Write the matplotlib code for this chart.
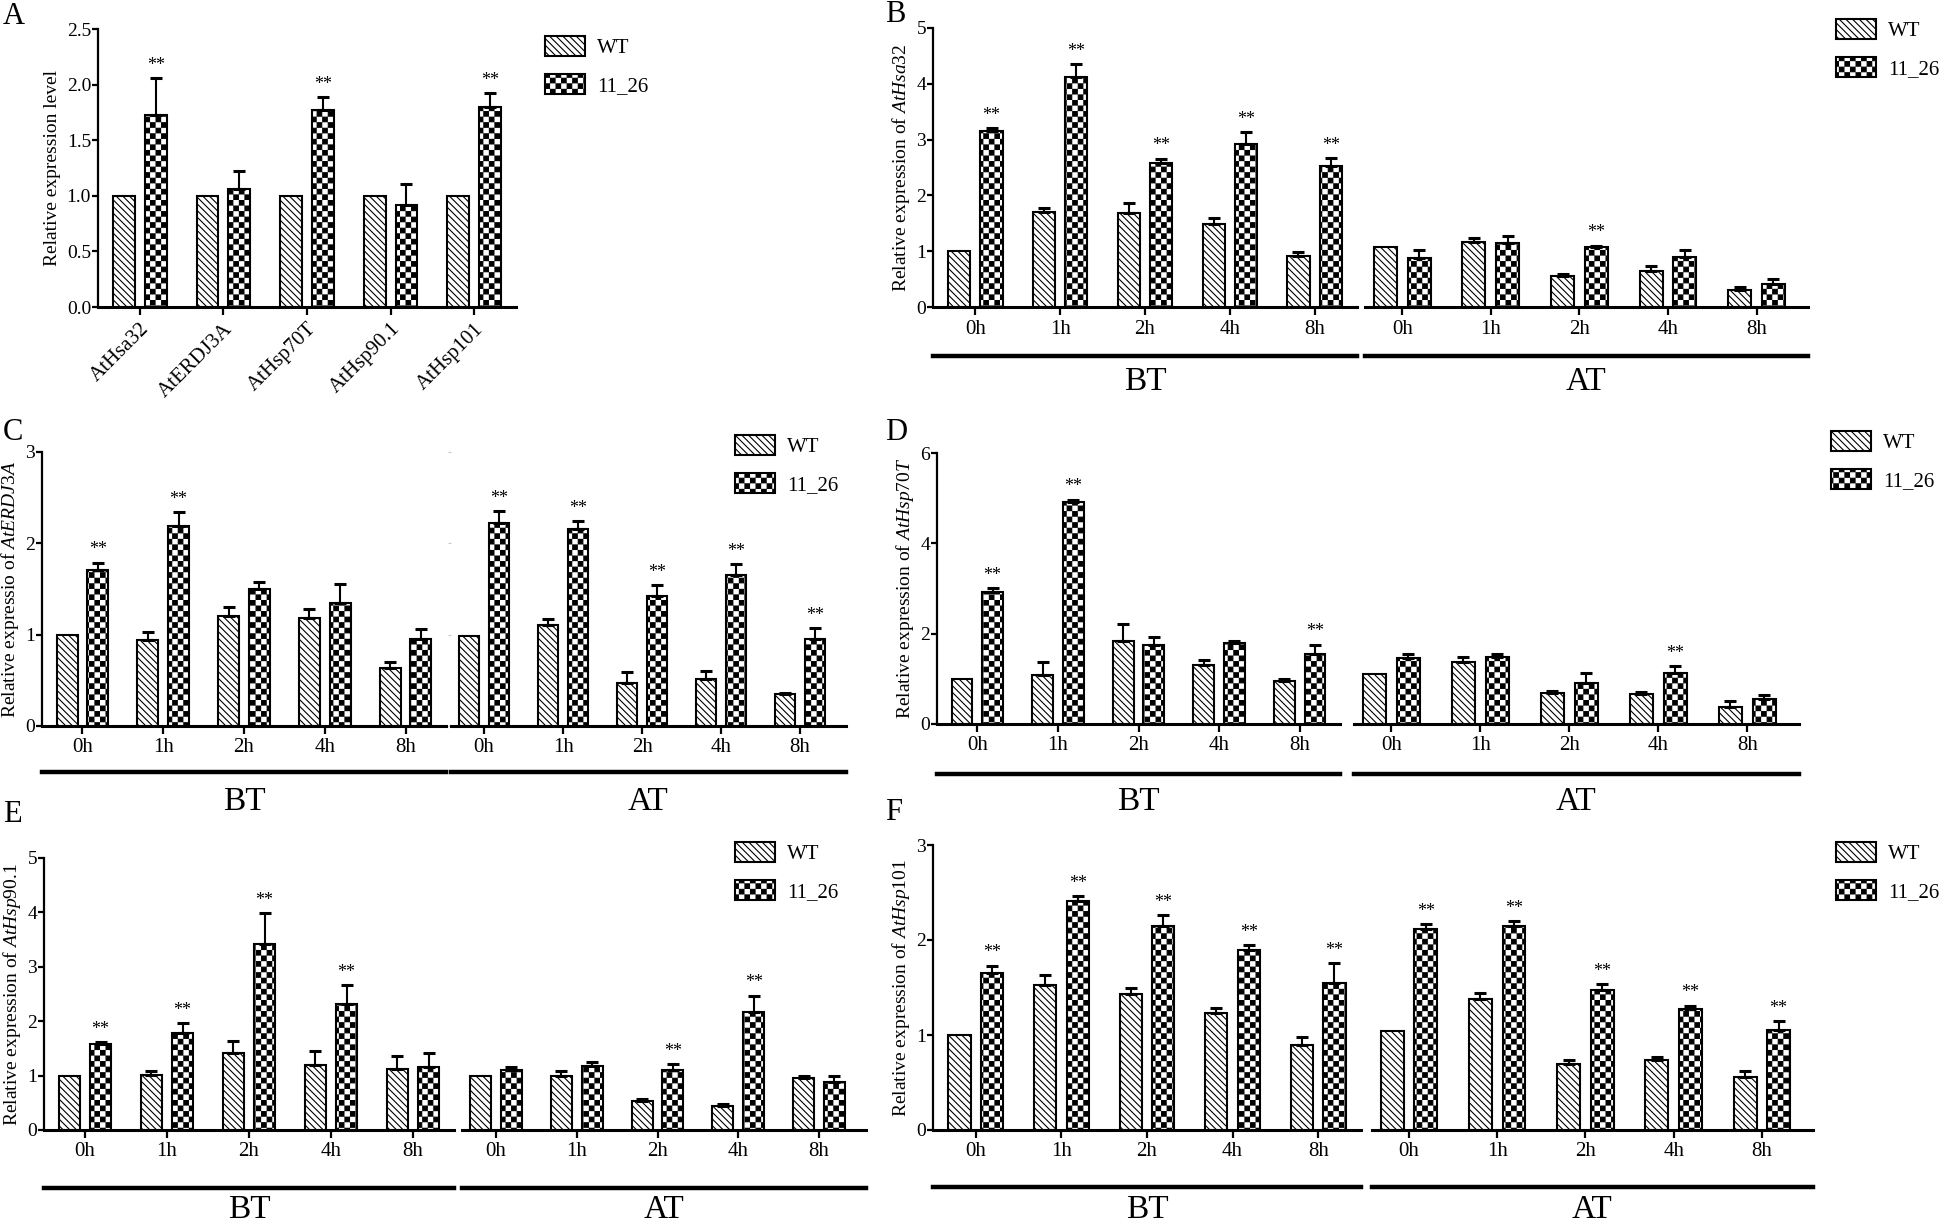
import matplotlib
matplotlib.use("Agg")
import matplotlib.pyplot as plt
import matplotlib.hatch as mhatch
from matplotlib.patches import Patch
from matplotlib.lines import Line2D
from matplotlib.path import Path
import numpy as np

plt.rcParams['font.family'] = 'Liberation Serif'
plt.rcParams['mathtext.fontset'] = 'custom'
plt.rcParams['mathtext.rm'] = 'Liberation Serif'
plt.rcParams['mathtext.it'] = 'Liberation Serif:italic'
plt.rcParams['hatch.linewidth'] = 0.8


# checkerboard hatch, used in place of the '*' pattern
class CheckerHatch(mhatch.HatchPatternBase):
    def __init__(self, hatch, density):
        self.n = int(hatch.count('*') * density)
        if self.n % 2:
            self.n += 1
        self.num_vertices = (self.n * self.n // 2) * 5

    def set_vertices_and_codes(self, vertices, codes):
        n = self.n
        s = 1.0 / n
        inset = 0.005
        k = 0
        for i in range(n):
            for j in range(n):
                if (i + j) % 2:
                    continue
                x0, y0 = i * s + inset, j * s + inset
                x1, y1 = (i + 1) * s - inset, (j + 1) * s - inset
                vertices[k:k + 5] = [(x0, y0), (x1, y0), (x1, y1), (x0, y1), (x0, y0)]
                codes[k:k + 5] = [Path.MOVETO, Path.LINETO, Path.LINETO,
                                  Path.LINETO, Path.CLOSEPOLY]
                k += 5


mhatch._hatch_types[:] = [t for t in mhatch._hatch_types if t is not mhatch.Stars] + [CheckerHatch]

WT_HATCH = '\\' * 5
MUT_HATCH = '***'

# ---------------- data ----------------
genes = ["AtHsa32", "AtERDJ3A", "AtHsp70T", "AtHsp90.1", "AtHsp101"]
a_wt = [1.0, 1.0, 1.0, 1.0, 1.0]
a_wt_err = [0, 0, 0, 0, 0]
a_mut = [1.73, 1.06, 1.77, 0.92, 1.80]
a_mut_err = [0.33, 0.16, 0.12, 0.19, 0.12]
a_sig = [1, 0, 1, 0, 1]

times = ["0h", "1h", "2h", "4h", "8h"]

# B: AtHsa32
b_bt_wt = [1.00, 1.70, 1.68, 1.48, 0.92]
b_bt_wt_err = [0, 0.08, 0.18, 0.11, 0.06]
b_bt_mut = [3.15, 4.13, 2.58, 2.93, 2.53]
b_bt_mut_err = [0.05, 0.22, 0.08, 0.21, 0.14]
b_at_wt = [1.08, 1.17, 0.55, 0.64, 0.30]
b_at_wt_err = [0, 0.07, 0.05, 0.10, 0.05]
b_at_mut = [0.88, 1.14, 1.07, 0.90, 0.41]
b_at_mut_err = [0.14, 0.13, 0.03, 0.12, 0.10]
b_bt_sig = [1, 1, 1, 1, 1]
b_at_sig = [0, 0, 1, 0, 0]

# C: AtERDJ3A
c_bt_wt = [1.00, 0.94, 1.20, 1.18, 0.64]
c_bt_wt_err = [0, 0.09, 0.10, 0.10, 0.06]
c_bt_mut = [1.71, 2.19, 1.50, 1.35, 0.95]
c_bt_mut_err = [0.08, 0.15, 0.08, 0.20, 0.11]
c_at_wt = [0.99, 1.11, 0.47, 0.51, 0.35]
c_at_wt_err = [0, 0.06, 0.12, 0.09, 0.01]
c_at_mut = [2.22, 2.16, 1.42, 1.65, 0.95]
c_at_mut_err = [0.13, 0.08, 0.12, 0.12, 0.12]
c_bt_sig = [1, 1, 0, 0, 0]
c_at_sig = [1, 1, 1, 1, 1]

# D: AtHsp70T
d_bt_wt = [1.00, 1.08, 1.83, 1.31, 0.95]
d_bt_wt_err = [0, 0.29, 0.39, 0.10, 0.04]
d_bt_mut = [2.92, 4.92, 1.74, 1.79, 1.54]
d_bt_mut_err = [0.09, 0.05, 0.18, 0.05, 0.22]
d_at_wt = [1.11, 1.38, 0.68, 0.66, 0.37]
d_at_wt_err = [0, 0.10, 0.05, 0.04, 0.15]
d_at_mut = [1.47, 1.49, 0.90, 1.12, 0.56]
d_at_mut_err = [0.07, 0.06, 0.22, 0.16, 0.09]
d_bt_sig = [1, 1, 0, 0, 1]
d_at_sig = [0, 0, 0, 1, 0]

# E: AtHsp90.1
e_bt_wt = [1.00, 1.02, 1.41, 1.20, 1.12]
e_bt_wt_err = [0, 0.06, 0.23, 0.25, 0.24]
e_bt_mut = [1.58, 1.79, 3.42, 2.32, 1.15]
e_bt_mut_err = [0.04, 0.17, 0.56, 0.35, 0.26]
e_at_wt = [1.00, 0.99, 0.54, 0.45, 0.96]
e_at_wt_err = [0, 0.10, 0.03, 0.03, 0.03]
e_at_mut = [1.11, 1.18, 1.10, 2.16, 0.88]
e_at_mut_err = [0.04, 0.07, 0.11, 0.31, 0.11]
e_bt_sig = [1, 1, 1, 1, 0]
e_at_sig = [0, 0, 1, 1, 0]

# F: AtHsp101
f_bt_wt = [1.00, 1.53, 1.43, 1.23, 0.90]
f_bt_wt_err = [0, 0.10, 0.07, 0.05, 0.08]
f_bt_mut = [1.65, 2.41, 2.15, 1.90, 1.55]
f_bt_mut_err = [0.08, 0.05, 0.11, 0.05, 0.21]
f_at_wt = [1.04, 1.38, 0.70, 0.74, 0.56]
f_at_wt_err = [0, 0.06, 0.04, 0.03, 0.06]
f_at_mut = [2.12, 2.15, 1.47, 1.27, 1.05]
f_at_mut_err = [0.05, 0.05, 0.07, 0.04, 0.10]
f_bt_sig = [1, 1, 1, 1, 1]
f_at_sig = [1, 1, 1, 1, 1]

# ---------------- figure ----------------
W, H = 1946, 1227
fig = plt.figure(figsize=(W / 100, H / 100), dpi=100)


def box(x0, y0, x1, y1):
    return [x0 / W, 1 - y1 / H, (x1 - x0) / W, (y1 - y0) / H]


def style(ax, left=True):
    ax.spines['top'].set_visible(False)
    ax.spines['right'].set_visible(False)
    ax.spines['bottom'].set_linewidth(2.2)
    ax.spines['left'].set_linewidth(1.6)
    ax.tick_params(axis='x', length=6, width=1.6, labelsize=15, pad=3)
    ax.tick_params(axis='y', length=4, width=1.6, labelsize=14, pad=1)
    if not left:
        ax.spines['left'].set_visible(False)
        ax.tick_params(axis='y', left=False, labelleft=False)


def draw_bars(ax, labels, wt, wt_err, mut, mut_err, sig):
    x = np.arange(len(labels))
    wt = np.array(wt)
    mut = np.array(mut)
    wt_err = np.array(wt_err)
    mut_err = np.array(mut_err)
    ax.bar(x - 0.19, wt, 0.26, color='white', edgecolor='black',
           linewidth=1.5, hatch=WT_HATCH, zorder=2)
    ax.bar(x + 0.19, mut, 0.26, color='white', edgecolor='black',
           linewidth=1.5, hatch=MUT_HATCH, zorder=2)
    for xs, vals, errs in [(x - 0.19, wt, wt_err), (x + 0.19, mut, mut_err)]:
        m = errs > 0
        ax.errorbar(xs[m], vals[m], yerr=[np.zeros(m.sum()), errs[m]], fmt='none',
                    ecolor='black', elinewidth=1.5, capsize=4.5, capthick=2.2, zorder=3)
    for xi, v, e, s in zip(x, mut, mut_err, sig):
        if s:
            ax.annotate('**', (xi + 0.19, v + e), xytext=(0, 3),
                        textcoords='offset points', ha='center', va='bottom',
                        fontsize=13, annotation_clip=False)
    ax.set_xticks(x)
    ax.set_xticklabels(labels)


def add_legend(x, y):
    handles = [Patch(facecolor='white', edgecolor='black', linewidth=1.5, hatch=WT_HATCH),
               Patch(facecolor='white', edgecolor='black', linewidth=1.5, hatch=MUT_HATCH)]
    fig.legend(handles, ['WT', '11_26'], loc='upper left',
               bbox_to_anchor=(x / W, 1 - y / H), frameon=False, fontsize=15,
               handlelength=1.9, handleheight=1.1, handletextpad=0.6,
               labelspacing=0.75, borderpad=0, borderaxespad=0)


# ---- panel A ----
axA = fig.add_axes(box(98, 29, 516, 307))
draw_bars(axA, genes, a_wt, a_wt_err, a_mut, a_mut_err, a_sig)
style(axA)
axA.set_xlim(-0.5, 4.5)
axA.set_ylim(0, 2.5)
axA.set_yticks(np.arange(0, 2.51, 0.5))
axA.set_yticklabels([f"{v:.1f}" for v in np.arange(0, 2.51, 0.5)])
plt.setp(axA.get_xticklabels(), rotation=45, ha='right', rotation_mode='anchor')
axA.set_ylabel("Relative expression level", fontsize=14, labelpad=4)
add_legend(545, 36)
fig.text(3 / W, 1 - 16 / H, 'A', fontsize=22, va='center', ha='left')

# ---- panels B-F ----
panels = [
    dict(letter='B', gene='AtHsa32', ymax=5, step=1,
         bt=(933, 1357), at=(1365, 1808), top=28, bottom=307, line=356, text=382,
         leg=(1836, 19), lxy=(885, 15),
         d=(b_bt_wt, b_bt_wt_err, b_bt_mut, b_bt_mut_err, b_bt_sig,
            b_at_wt, b_at_wt_err, b_at_mut, b_at_mut_err, b_at_sig)),
    dict(letter='C', gene='AtERDJ3A', ymax=3, step=1, label_prefix='Relative expressio of ',
         bt=(42, 446), at=(451, 846), top=452, bottom=726, line=772, text=802,
         leg=(735, 435), lxy=(3, 433),
         d=(c_bt_wt, c_bt_wt_err, c_bt_mut, c_bt_mut_err, c_bt_sig,
            c_at_wt, c_at_wt_err, c_at_mut, c_at_mut_err, c_at_sig)),
    dict(letter='D', gene='AtHsp70T', ymax=6, step=2,
         bt=(937, 1340), at=(1354, 1799), top=453, bottom=724, line=774, text=802,
         leg=(1831, 431), lxy=(885, 432),
         d=(d_bt_wt, d_bt_wt_err, d_bt_mut, d_bt_mut_err, d_bt_sig,
            d_at_wt, d_at_wt_err, d_at_mut, d_at_mut_err, d_at_sig)),
    dict(letter='E', gene='AtHsp90.1', ymax=5, step=1,
         bt=(44, 454), at=(462, 866), top=858, bottom=1130, line=1188, text=1210,
         leg=(735, 842), lxy=(3, 815),
         d=(e_bt_wt, e_bt_wt_err, e_bt_mut, e_bt_mut_err, e_bt_sig,
            e_at_wt, e_at_wt_err, e_at_mut, e_at_mut_err, e_at_sig)),
    dict(letter='F', gene='AtHsp101', ymax=3, step=1,
         bt=(933, 1361), at=(1372, 1813), top=845, bottom=1130, line=1187, text=1210,
         leg=(1836, 842), lxy=(885, 813),
         d=(f_bt_wt, f_bt_wt_err, f_bt_mut, f_bt_mut_err, f_bt_sig,
            f_at_wt, f_at_wt_err, f_at_mut, f_at_mut_err, f_at_sig)),
]

for p in panels:
    bt_wt, bt_wt_err, bt_mut, bt_mut_err, bt_sig, at_wt, at_wt_err, at_mut, at_mut_err, at_sig = p['d']
    ax1 = fig.add_axes(box(p['bt'][0], p['top'], p['bt'][1], p['bottom']))
    ax2 = fig.add_axes(box(p['at'][0], p['top'], p['at'][1], p['bottom']))
    draw_bars(ax1, times, bt_wt, bt_wt_err, bt_mut, bt_mut_err, bt_sig)
    draw_bars(ax2, times, at_wt, at_wt_err, at_mut, at_mut_err, at_sig)
    style(ax1)
    style(ax2, left=False)
    for ax in (ax1, ax2):
        ax.set_ylim(0, p['ymax'])
        ax.set_yticks(np.arange(0, p['ymax'] + 0.01, p['step']))
    ax1.set_xlim(-0.5, 4.5)
    ax2.set_xlim(-0.42, 4.58)
    if p['letter'] == 'C':
        # faint leftover ticks of the broken axis
        ax2.tick_params(axis='y', left=True, length=2, width=0.8, color='#c8c8c8')
    prefix = p.get('label_prefix', 'Relative expression of ')
    ax1.set_ylabel(prefix + r'$\mathit{' + p['gene'] + '}$', fontsize=14, labelpad=3)

    for (x0, x1), name in [(p['bt'], 'BT'), (p['at'], 'AT')]:
        fig.add_artist(Line2D([x0 / W, x1 / W], [1 - p['line'] / H] * 2,
                              color='black', linewidth=3.2))
        fig.text((x0 + x1) / 2 / W, 1 - p['text'] / H, name, fontsize=24,
                 ha='center', va='center')
    add_legend(*p['leg'])
    fig.text(p['lxy'][0] / W, 1 - p['lxy'][1] / H, p['letter'], fontsize=22,
             va='center', ha='left')

fig.savefig("out.png", dpi=100)
